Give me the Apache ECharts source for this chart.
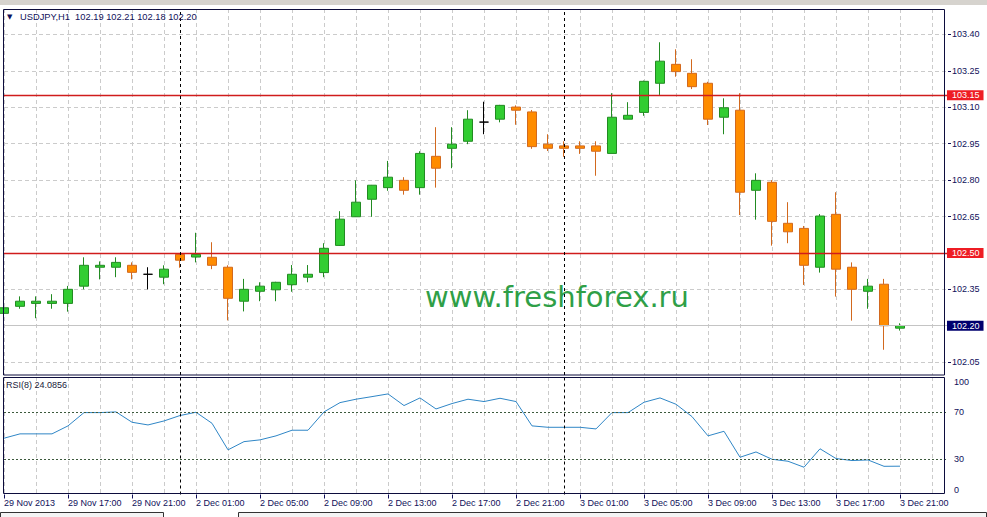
<!DOCTYPE html>
<html><head><meta charset="utf-8">
<script src="https://cdn.jsdelivr.net/npm/echarts@6/dist/echarts.min.js"></script>
<style>html,body{margin:0;padding:0;background:#fff}#c{width:987px;height:517px}</style>
</head><body><div id="c"></div>
<script>
// ---- data ----
const categories = [
 '29 Nov 2013','29 Nov 14:00','29 Nov 15:00','29 Nov 16:00','29 Nov 17:00','29 Nov 18:00','29 Nov 19:00','29 Nov 20:00','29 Nov 21:00','29 Nov 22:00','29 Nov 23:00',
 '2 Dec 00:00','2 Dec 01:00','2 Dec 02:00','2 Dec 03:00','2 Dec 04:00','2 Dec 05:00','2 Dec 06:00','2 Dec 07:00','2 Dec 08:00','2 Dec 09:00','2 Dec 10:00','2 Dec 11:00','2 Dec 12:00',
 '2 Dec 13:00','2 Dec 14:00','2 Dec 15:00','2 Dec 16:00','2 Dec 17:00','2 Dec 18:00','2 Dec 19:00','2 Dec 20:00','2 Dec 21:00','2 Dec 22:00','2 Dec 23:00',
 '3 Dec 00:00','3 Dec 01:00','3 Dec 02:00','3 Dec 03:00','3 Dec 04:00','3 Dec 05:00','3 Dec 06:00','3 Dec 07:00','3 Dec 08:00','3 Dec 09:00','3 Dec 10:00','3 Dec 11:00','3 Dec 12:00',
 '3 Dec 13:00','3 Dec 14:00','3 Dec 15:00','3 Dec 16:00','3 Dec 17:00','3 Dec 18:00','3 Dec 19:00','3 Dec 20:00','3 Dec 21:00'
];
const padCategories = ['', '', ''];
const opens  = [102.251,102.280,102.292,102.292,102.292,102.363,102.441,102.441,102.449,102.412,102.400,102.494,102.483,102.482,102.441,102.301,102.342,102.348,102.369,102.400,102.419,102.531,102.649,102.721,102.769,102.799,102.769,102.898,102.931,102.960,103.039,103.051,103.101,103.081,102.948,102.941,102.941,102.941,102.910,103.051,103.079,103.199,103.277,103.240,103.199,103.059,103.088,102.758,102.791,102.622,102.601,102.441,102.659,102.441,102.342,102.371,102.19];
const highs  = [102.331,102.321,102.321,102.330,102.364,102.482,102.465,102.482,102.461,102.441,102.449,102.496,102.583,102.544,102.449,102.393,102.379,102.381,102.450,102.450,102.540,102.672,102.799,102.780,102.879,102.812,102.919,103.018,103.018,103.088,103.123,103.110,103.108,103.089,102.989,102.960,102.960,102.960,103.158,103.121,103.210,103.368,103.339,103.298,103.205,103.137,103.158,102.828,102.800,102.709,102.611,102.660,102.750,102.461,102.393,102.393,102.21];
const lows   = [102.245,102.270,102.231,102.270,102.258,102.350,102.391,102.400,102.391,102.350,102.371,102.439,102.461,102.433,102.222,102.259,102.301,102.301,102.340,102.379,102.400,102.529,102.648,102.649,102.756,102.740,102.740,102.769,102.849,102.948,102.989,103.038,103.028,102.929,102.920,102.896,102.908,102.818,102.910,103.051,103.065,103.151,103.226,103.175,103.027,102.989,102.656,102.637,102.530,102.540,102.368,102.419,102.320,102.221,102.270,102.101,102.18];
const closes = [102.274,102.301,102.301,102.301,102.350,102.449,102.449,102.461,102.420,102.412,102.433,102.470,102.494,102.449,102.313,102.350,102.363,102.379,102.412,102.412,102.519,102.639,102.709,102.779,102.812,102.758,102.910,102.849,102.948,103.051,103.039,103.108,103.088,102.938,102.931,102.931,102.931,102.919,103.059,103.067,103.207,103.290,103.247,103.185,103.051,103.098,102.750,102.799,102.630,102.587,102.449,102.652,102.433,102.350,102.363,102.200,102.20];
const rsi = [47.9,51.6,51.6,51.6,58.4,69.7,69.7,70.3,61.5,59.2,62.6,67.2,70.0,60.6,38.0,45.0,46.5,49.9,54.7,54.7,70.3,78.2,81.1,83.3,85.6,75.7,82.2,72.8,77.4,81.1,79.1,81.9,79.1,58.4,57.2,57.2,57.2,55.8,69.7,69.7,78.5,82.2,76.8,66.3,49.9,53.8,31.7,36.2,30.0,28.3,23.2,38.9,30.6,28.9,29.4,24.0,24.0856];
const priceTicks = [102.05,102.20,102.35,102.50,102.65,102.80,102.95,103.10,103.25,103.40];
const rsiTicks = [0,30,70,100];
const resistanceLevels = [103.15, 102.50];
const lastPrice = 102.20;
const rsiLevels = [70, 30];
const daySeparators = ['2 Dec 00:00', '3 Dec 00:00'];
const headerText = 'USDJPY,H1  102.19 102.21 102.18 102.20';
const rsiText = 'RSI(8) 24.0856';
const watermark = 'www.freshforex.ru';

// ---- chart ----
const FONT = 'Liberation Sans';
const NAVY = '#10105a';
const RED = '#d01c1c';
const chart = echarts.init(document.getElementById('c'), null, {renderer: 'svg'});
const candleData = categories.map((c, i) => [opens[i], closes[i], lows[i], highs[i]]);
const xCats = categories.concat(padCategories);
const gridDash = {color: '#cbcbcb', type: [4, 3], width: 1};

const sepLines = () => daySeparators.map(d => ({xAxis: d}));
const boxLabel = (bg) => ({show: true, position: 'end', distance: -1, color: '#fff', backgroundColor: bg,
  padding: [1, 4, 0, 5], fontSize: 9, fontFamily: FONT, formatter: p => Number(p.value).toFixed(2)});

const option = {
  animation: false,
  backgroundColor: '#fff',
  grid: [
    {left: 4, top: 9, width: 944, height: 366},
    {left: 4, top: 377, width: 944, height: 117.5}
  ],
  xAxis: [
    {type: 'category', gridIndex: 0, data: xCats, boundaryGap: false,
     axisLine: {show: false}, axisTick: {show: false}, axisLabel: {show: false},
     splitLine: {show: true, interval: 1, lineStyle: gridDash}},
    {type: 'category', gridIndex: 1, data: xCats, boundaryGap: false,
     axisLine: {show: false},
     axisTick: {show: true, interval: 3, length: 4, lineStyle: {color: NAVY}},
     axisLabel: {show: true, interval: 3, align: 'left', margin: 4, fontSize: 9, fontFamily: FONT, color: NAVY},
     splitLine: {show: true, interval: 1, lineStyle: gridDash}}
  ],
  yAxis: [
    {type: 'value', gridIndex: 0, position: 'right', min: 101.997, max: 103.505,
     axisLine: {show: false},
     axisTick: {show: true, length: 3, customValues: priceTicks, lineStyle: {color: NAVY}},
     axisLabel: {customValues: priceTicks, margin: 4, fontSize: 9, fontFamily: FONT, color: NAVY, formatter: v => v.toFixed(2)},
     splitLine: {show: true, lineStyle: gridDash}},
    {type: 'value', gridIndex: 1, position: 'right', min: 0, max: 100,
     axisLine: {show: false},
     axisTick: {show: false, customValues: rsiTicks},
     axisLabel: {customValues: rsiTicks, margin: 6, fontSize: 9, fontFamily: FONT, color: NAVY,
                 verticalAlignMaxLabel: 'top', verticalAlignMinLabel: 'bottom'},
     splitLine: {show: false}}
  ],
  series: [
    {type: 'line', name: 'levels', xAxisIndex: 0, yAxisIndex: 0, data: [], color: RED, z: 1,
     markLine: {symbol: ['none', 'none'], silent: true, animation: false,
       lineStyle: {color: RED, type: 'solid', width: 1.4},
       label: boxLabel('#ee1c24'),
       data: resistanceLevels.map(v => ({yAxis: v}))}
    },
    {type: 'line', name: 'last', xAxisIndex: 0, yAxisIndex: 0, data: [], color: '#c4c4c4', z: 1,
     markLine: {symbol: ['none', 'none'], silent: true, animation: false,
       lineStyle: {color: '#c4c4c4', type: 'solid', width: 1},
       label: boxLabel('#00006e'),
       data: [{yAxis: lastPrice}]}
    },
    {type: 'candlestick', xAxisIndex: 0, yAxisIndex: 0, data: candleData, barWidth: 10, z: 3,
     itemStyle: {color: '#32cd32', color0: '#ff8c00', borderColor: '#228b22', borderColor0: '#d2691e', borderColorDoji: '#000', borderWidth: 1},
     markLine: {symbol: ['none', 'none'], silent: true, animation: false,
       lineStyle: {color: '#000', type: [3, 3], width: 1}, label: {show: false},
       data: sepLines()}
    },
    {type: 'line', xAxisIndex: 1, yAxisIndex: 1, data: rsi, showSymbol: false, symbol: 'none',
     lineStyle: {color: '#2f86c6', width: 1},
     markLine: {symbol: ['none', 'none'], silent: true, animation: false,
       lineStyle: {color: '#000', type: [3, 3], width: 1}, label: {show: false},
       data: sepLines()}
    },
    {type: 'line', xAxisIndex: 1, yAxisIndex: 1, data: [], color: '#3d5a3d',
     markLine: {symbol: ['none', 'none'], silent: true, animation: false,
       lineStyle: {color: '#3d5a3d', type: [2, 2], width: 1}, label: {show: false},
       data: rsiLevels.map(v => ({yAxis: v}))}
    }
  ],
  graphic: [
    {type: 'rect', z: -10, silent: true, shape: {x: 0, y: 0, width: 987, height: 5}, style: {fill: '#d6d3ce'}},
    {type: 'rect', z: 100, silent: true, shape: {x: 3.5, y: 9.5, width: 941, height: 365.5}, style: {fill: 'none', stroke: '#0c0c3c', lineWidth: 1}},
    {type: 'rect', z: 100, silent: true, shape: {x: 3.5, y: 377.5, width: 941, height: 116}, style: {fill: 'none', stroke: '#0c0c3c', lineWidth: 1}},
    {type: 'rect', z: 100, silent: true, shape: {x: 0.5, y: 512.5, width: 163, height: 6}, style: {fill: '#f4f4f4', stroke: '#333', lineWidth: 1}},
    {type: 'rect', z: 100, silent: true, shape: {x: 238.5, y: 512.5, width: 748, height: 6}, style: {fill: '#f4f4f4', stroke: '#333', lineWidth: 1}},
    {type: 'text', z: 100, silent: true, x: 7, y: 17, style: {text: '▼', fontSize: 7, fontFamily: 'DejaVu Sans', fill: NAVY, verticalAlign: 'middle'}},
    {type: 'text', z: 100, silent: true, x: 20, y: 17, style: {text: headerText, fontSize: 9.3, fontFamily: FONT, fill: NAVY, verticalAlign: 'middle'}},
    {type: 'text', z: 100, silent: true, x: 6, y: 385, style: {text: rsiText, fontSize: 9, fontFamily: FONT, fill: '#1a1a3a', verticalAlign: 'middle'}},
    {type: 'text', z: 5, silent: true, x: 557, y: 297, style: {text: watermark, fontSize: 29, fontFamily: 'DejaVu Sans', fill: '#2f9f47', align: 'center', verticalAlign: 'middle'}}
  ]
};
chart.setOption(option);
</script></body></html>
